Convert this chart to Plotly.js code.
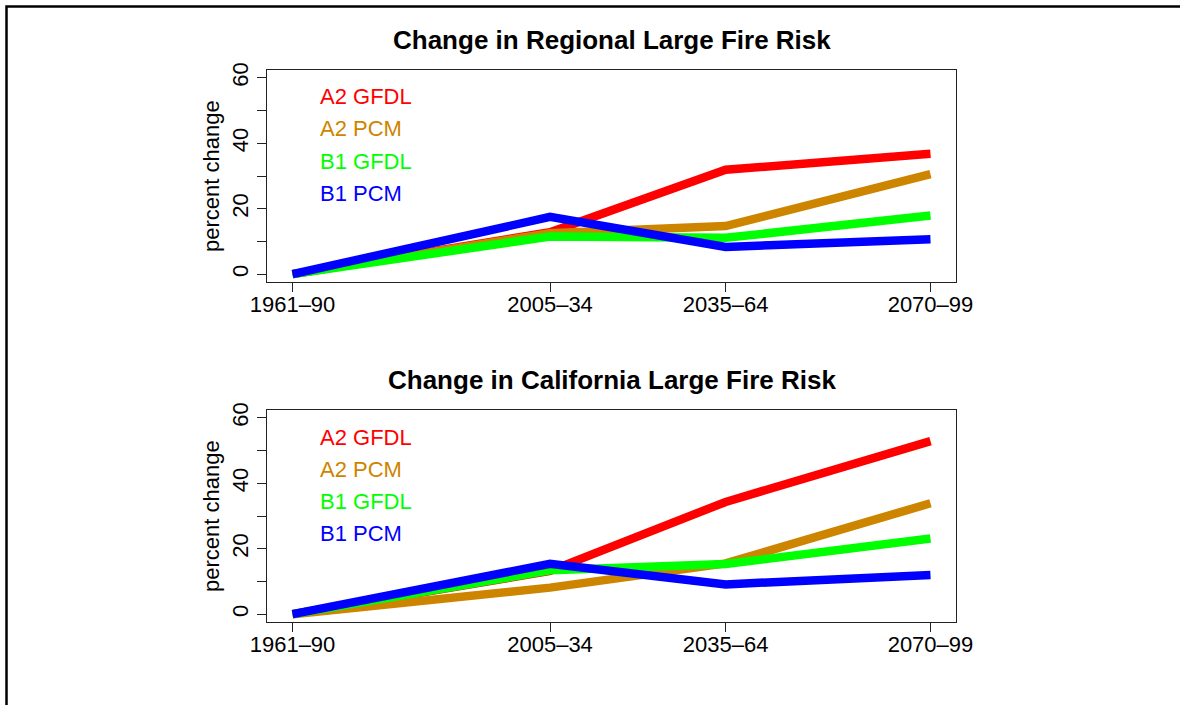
<!DOCTYPE html>
<html><head><meta charset="utf-8">
<script src="https://cdn.plot.ly/plotly-3.0.1.min.js"></script>
<style>html,body{margin:0;padding:0;background:#fff;} #chart{width:1180px;height:705px;}</style>
</head><body><div id="chart"></div>
<script>
// ---- data ----
const periods = ["1961–90", "2005–34", "2035–64", "2070–99"];
const periodMid = [1975.5, 2019.5, 2049.5, 2084.5];
const seriesNames = ["A2 GFDL", "A2 PCM", "B1 GFDL", "B1 PCM"];
const seriesColors = ["#FF0000", "#CD8500", "#00FF00", "#0000FF"];

const regionalA2GFDL = [0, 12.8, 31.9, 36.8];
const regionalA2PCM  = [0, 12.5, 14.7, 30.6];
const regionalB1GFDL = [0, 11.5, 11.1, 17.9];
const regionalB1PCM  = [0, 17.5, 8.3, 10.7];

const californiaA2GFDL = [0, 13.2, 34.3, 52.9];
const californiaA2PCM  = [0, 8.1, 15.5, 33.9];
const californiaB1GFDL = [0, 13.4, 15.3, 23.1];
const californiaB1PCM  = [0, 15.4, 9.1, 12.0];

const panelTitles = ["Change in Regional Large Fire Risk", "Change in California Large Fire Risk"];
const yTitle = "percent change";
const yTickVals = [0, 10, 20, 30, 40, 50, 60];
const yTickText = ["0", "", "20", "", "40", "", "60"];

// ---- layout helpers ----
const W = 1180, H = 705;
const font = "Liberation Sans, Arial, Helvetica, sans-serif";
const panels = [
  {title: panelTitles[0], series: [regionalA2GFDL, regionalA2PCM, regionalB1GFDL, regionalB1PCM],
   x: 'x', y: 'y', yr: 'y3', top: 70, bottom: 282, titleY: 40},
  {title: panelTitles[1], series: [californiaA2GFDL, californiaA2PCM, californiaB1GFDL, californiaB1PCM],
   x: 'x2', y: 'y2', yr: 'y4', top: 410, bottom: 622, titleY: 380}
];
const xDomain = [267 / W, 956 / W];
const xRange = [1971.14, 2088.86];
const yRange = [-2.4, 62.4];

const traces = [];
const annotations = [];
const layout = {
  width: W, height: H,
  margin: {l: 0, r: 0, t: 0, b: 0},
  paper_bgcolor: '#fff', plot_bgcolor: '#fff',
  showlegend: false, hovermode: false,
  font: {family: font, size: 22, color: '#000'},
  shapes: [{type: 'rect', xref: 'paper', yref: 'paper',
            x0: 6.5 / W, x1: 1.05, y0: -0.05, y1: 1 - 6.5 / H,
            line: {color: '#000', width: 2.5}}],
  annotations: annotations
};

function axisName(ref) { return ref === 'x' ? 'xaxis' : ref === 'y' ? 'yaxis' : ref.replace('x', 'xaxis').replace('y', 'yaxis'); }

panels.forEach((p, i) => {
  p.series.forEach((vals, k) => {
    traces.push({type: 'scatter', mode: 'lines', x: periodMid, y: vals,
      xaxis: p.x, yaxis: p.y, name: seriesNames[k],
      line: {color: seriesColors[k], width: 8.5}});
  });
  const yDom = [1 - p.bottom / H, 1 - p.top / H];
  const common = {showgrid: false, zeroline: false, showline: true, linecolor: '#222', linewidth: 1,
                  ticks: 'outside', ticklen: 9, tickwidth: 1, tickcolor: '#222',
                  tickfont: {family: font, size: 22, color: '#000'}, fixedrange: true};
  layout[axisName(p.x)] = Object.assign({}, common, {
    domain: xDomain, anchor: p.y, range: xRange, autorange: false, ticklabelstandoff: -6,
    tickmode: 'array', tickvals: periodMid, ticktext: periods, mirror: true});
  layout[axisName(p.y)] = Object.assign({}, common, {
    domain: yDom, anchor: p.x, range: yRange, autorange: false,
    tickmode: 'array', tickvals: yTickVals, ticktext: yTickText, tickangle: -90, mirror: true});
  layout[axisName(p.yr)] = Object.assign({}, common, {
    overlaying: p.y, side: 'right', anchor: p.x, range: yRange, autorange: false, ticklabelstandoff: 7,
    tickmode: 'array', tickvals: yTickVals, ticktext: yTickText, tickangle: -90});
  // panel title
  annotations.push({xref: 'paper', yref: 'paper', x: (xDomain[0] + xDomain[1]) / 2, y: 1 - p.titleY / H,
    xanchor: 'center', yanchor: 'middle', showarrow: false,
    text: '<b>' + p.title + '</b>', font: {family: font, size: 26, color: '#000'}});
  // y axis title
  annotations.push({xref: 'paper', yref: 'paper', x: 211 / W, y: (yDom[0] + yDom[1]) / 2,
    xanchor: 'center', yanchor: 'middle', showarrow: false, textangle: -90,
    text: yTitle, font: {family: font, size: 22, color: '#000'}});
  // coloured legend text
  seriesNames.forEach((name, k) => {
    annotations.push({xref: 'paper', yref: 'paper', x: 318 / W, y: 1 - (p.top + 27 + 32 * k) / H,
      xanchor: 'left', yanchor: 'middle', showarrow: false,
      text: name, font: {family: font, size: 22, color: seriesColors[k]}});
  });
});

Plotly.newPlot('chart', traces, layout, {staticPlot: true, displayModeBar: false});
</script>
</body></html>
